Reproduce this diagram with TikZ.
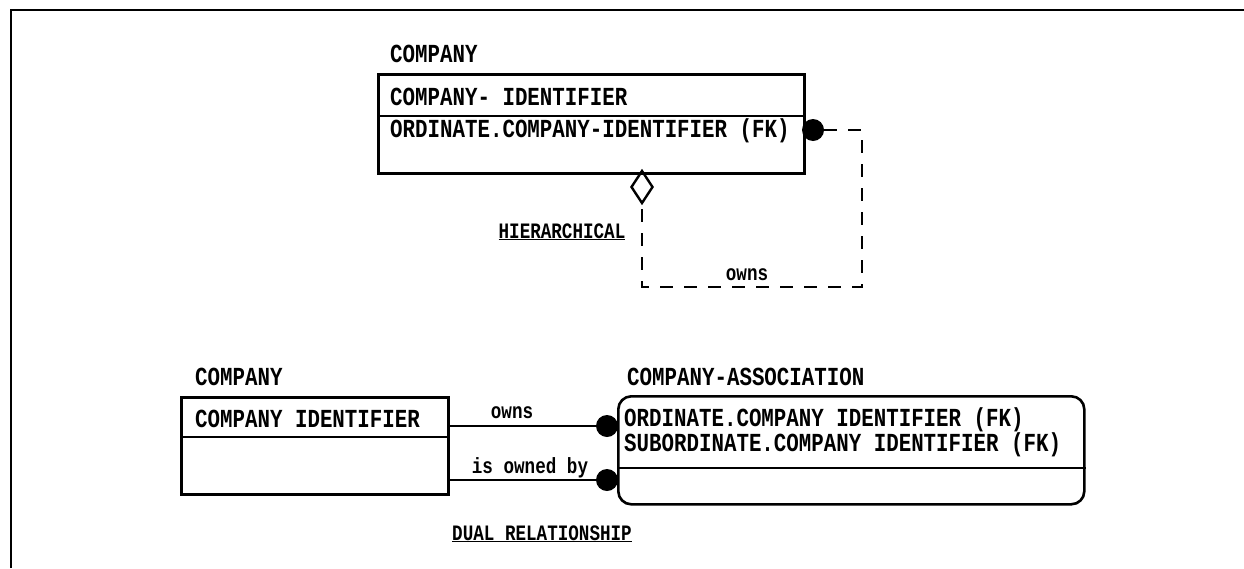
\documentclass[tikz,border=0pt]{standalone}
\usepackage{fontspec}
\newfontfamily\erfont[FakeStretch=0.8]{Liberation Mono}
\usetikzlibrary{shapes.geometric, calc}

\begin{document}
\begin{tikzpicture}[x=1pt, y=-1pt,
  entity/.style={draw, line width=2.6pt, inner sep=0pt, anchor=north west},
  attr/.style={anchor=base west, inner sep=0pt, font=\erfont\bfseries\fontsize{26}{23}\selectfont},
  tag/.style={anchor=base, inner sep=0pt, font=\erfont\bfseries\fontsize{22}{24}\selectfont},
  rel/.style={line width=2.6pt},
  hier/.style={line width=1.4pt, dash pattern=on 13pt off 11pt},
  dot/.style={circle, fill, inner sep=0pt, minimum size=22pt},
]
\useasboundingbox (0,0) rectangle (1244,568);

% frame
\draw[line width=2.4pt] (11,568) -- (11,10) -- (1244,10);

% hierarchical (recursive) relationship
\node[attr] (cotitle) at (390,62) {COMPANY};
\node[entity, minimum width=426pt, minimum height=99pt] (cobox) at (377,73) {};
\draw[line width=2.6pt] ($(cobox.north west)+(0,43)$) -- ($(cobox.north east)+(0,43)$);
\node[attr] (coid) at (390,105) {COMPANY- IDENTIFIER};
\node[attr] (cofk) at (390,137) {ORDINATE.COMPANY-IDENTIFIER (FK)};

\node[dot] (hdot) at (813,130) {};
\node[draw, diamond, line width=2.4pt, inner sep=0pt,
      minimum width=22pt, minimum height=33pt] (hdia) at (642,187) {};
\coordinate (h1) at (862,130);
\coordinate (h2) at (862,287);
\draw[hier] (hdot.east) -- (h1) -- (h2) -| (hdia.south);
\node[tag] (howns) at (747,280) {owns};
\node[tag] (hlabel) at (562,238) {\underline{HIERARCHICAL}};

% dual relationship
\node[attr] (cptitle) at (195,385) {COMPANY};
\node[entity, minimum width=267pt, minimum height=97pt] (cpbox) at (180,396) {};
\draw[line width=2.6pt] ($(cpbox.north west)+(0,41)$) -- ($(cpbox.north east)+(0,41)$);
\node[attr] (cpid) at (195,427) {COMPANY IDENTIFIER};

\node[attr] (astitle) at (627,385) {COMPANY-ASSOCIATION};
\node[entity, rounded corners=13pt, minimum width=466pt, minimum height=108pt] (asbox) at (617,395) {};
\draw[line width=2.6pt] ($(asbox.north west)+(0,73)$) -- ($(asbox.north east)+(0,73)$);
\node[attr, anchor=west, align=left] (askeys) at (624,432)
  {ORDINATE.COMPANY IDENTIFIER (FK)\\SUBORDINATE.COMPANY IDENTIFIER (FK)};

\node[dot] (odot) at (607,426) {};
\node[dot] (idot) at (607,480) {};
\draw[rel] (cpbox.east |- odot) -- (odot);
\draw[rel] (cpbox.east |- idot) -- (idot);
\node[tag] (owns) at (512,418) {owns};
\node[tag] (owned) at (530,473) {is owned by};
\node[tag] (dlabel) at (542,540) {\underline{DUAL RELATIONSHIP}};

\end{tikzpicture}
\end{document}
